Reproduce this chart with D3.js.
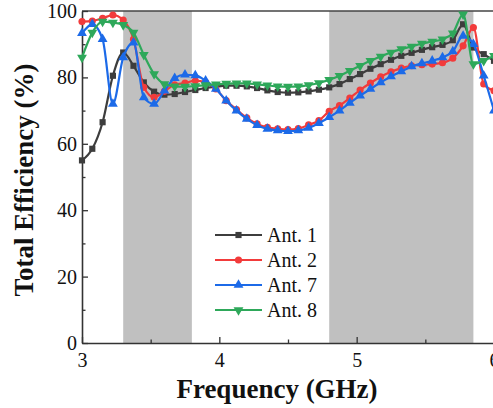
<!DOCTYPE html>
<html>
<head>
<meta charset="utf-8">
<script src="https://cdn.jsdelivr.net/npm/d3@7/dist/d3.min.js"></script>
<style>
  html, body { margin: 0; padding: 0; background: #fff; }
  svg { display: block; }
  text { font-family: "Liberation Serif", "Times New Roman", serif; fill: #111; }
</style>
</head>
<body>
<svg id="chart" width="493" height="408"></svg>
<script>
// Sweep frequencies (GHz)
const freq = [3.000, 3.075, 3.150, 3.225, 3.300, 3.375, 3.450, 3.525, 3.600, 3.675,
              3.750, 3.825, 3.900, 3.975, 4.050, 4.125, 4.200, 4.275, 4.350, 4.425,
              4.500, 4.575, 4.650, 4.725, 4.800, 4.875, 4.950, 5.025, 5.100, 5.175,
              5.250, 5.325, 5.400, 5.475, 5.550, 5.625, 5.700, 5.775, 5.850, 5.925, 6.000];

// Total efficiency (%) of each antenna
const ant1 = [55.0, 58.5, 66.5, 80.5, 87.5, 83.5, 78.5, 75.7, 74.8, 75.0,
              75.6, 76.2, 76.8, 77.2, 77.5, 77.5, 77.3, 76.8, 76.1, 75.6,
              75.4, 75.5, 75.8, 76.3, 77.0, 78.0, 79.5, 81.0, 82.6, 84.0,
              85.3, 86.5, 87.4, 88.3, 89.1, 89.8, 91.2, 96.0, 89.0, 87.0, 85.0];
const ant2 = [96.8, 97.0, 97.8, 98.8, 97.3, 91.5, 77.0, 74.0, 75.8, 77.8,
              78.3, 79.0, 78.5, 76.5, 73.0, 70.3, 67.8, 66.0, 65.0, 64.5,
              64.3, 64.6, 65.7, 67.0, 69.8, 71.5, 73.8, 76.2, 78.3, 80.2,
              81.7, 82.8, 83.5, 83.8, 84.0, 84.4, 85.8, 89.5, 95.0, 78.0, 76.0];
const ant7 = [93.3, 96.0, 91.5, 72.0, 86.0, 90.5, 74.0, 72.0, 76.0, 79.8,
              80.8, 80.6, 79.0, 76.5, 73.0, 70.0, 67.5, 65.6, 64.5, 64.0,
              63.8, 64.0, 64.8, 66.2, 68.0, 70.0, 72.3, 74.5, 76.5, 78.5,
              80.3, 81.8, 83.3, 84.2, 85.0, 86.0, 87.8, 92.5, 90.0, 80.5, 70.0];
const ant8 = [86.0, 93.5, 96.8, 96.5, 95.8, 93.5, 86.8, 81.0, 78.0, 77.3,
              77.2, 77.4, 77.7, 77.9, 78.1, 78.2, 78.2, 77.9, 77.6, 77.3,
              77.2, 77.3, 77.7, 78.3, 79.3, 80.5, 82.0, 83.5, 85.0, 86.3,
              87.5, 88.5, 89.3, 90.2, 90.8, 91.5, 93.3, 99.0, 84.0, 85.0, 86.5];

const seriesNames = ["Ant. 1", "Ant. 2", "Ant. 7", "Ant. 8"];
const seriesColors = ["#3d3d3d", "#f23b3b", "#1c6ae8", "#2ea85a"];
const seriesSymbols = [d3.symbolSquare, d3.symbolCircle, d3.symbolTriangle, d3.symbolTriangle];

// Shaded operating bands (GHz)
const bands = [[3.3, 3.8], [4.8, 5.85]];

const xTicks = [3, 4, 5, 6];
const xMinorTicks = [3.5, 4.5, 5.5];
const yTicks = [0, 20, 40, 60, 80, 100];
const yMinorTicks = [10, 30, 50, 70, 90];

const series = [ant1, ant2, ant7, ant8];

const svg = d3.select("#chart");
const x = d3.scaleLinear().domain([3, 6]).range([82, 494]);
const y = d3.scaleLinear().domain([0, 100]).range([343, 11]);

// shaded bands
svg.append("g").selectAll("rect").data(bands).join("rect")
  .attr("x", d => x(d[0]))
  .attr("y", y(100))
  .attr("width", d => x(d[1]) - x(d[0]))
  .attr("height", y(0) - y(100))
  .attr("fill", "#c0c0c0");

// frame top and right
svg.append("line").attr("x1", x(3)).attr("x2", x(6)).attr("y1", y(100)).attr("y2", y(100))
  .attr("stroke", "#444").attr("stroke-width", 1.3);
svg.append("line").attr("x1", x(6)).attr("x2", x(6)).attr("y1", y(100)).attr("y2", y(0))
  .attr("stroke", "#444").attr("stroke-width", 1.3);

// axes
const xAxis = svg.append("g").attr("transform", `translate(0,${y(0)})`)
  .call(d3.axisBottom(x).tickValues(xTicks).tickFormat(d3.format("d"))
        .tickSize(-6).tickSizeOuter(0).tickPadding(10));
svg.append("g").attr("transform", `translate(0,${y(0)})`)
  .call(d3.axisBottom(x).tickValues(xMinorTicks).tickFormat("")
        .tickSize(-3.5).tickSizeOuter(0))
  .select(".domain").remove();
const yAxis = svg.append("g").attr("transform", `translate(${x(3)},0)`)
  .call(d3.axisLeft(y).tickValues(yTicks).tickFormat(d3.format("d"))
        .tickSize(-6).tickSizeOuter(0).tickPadding(5));
svg.append("g").attr("transform", `translate(${x(3)},0)`)
  .call(d3.axisLeft(y).tickValues(yMinorTicks).tickFormat("")
        .tickSize(-3.5).tickSizeOuter(0))
  .select(".domain").remove();

svg.selectAll(".domain").attr("stroke", "#333").attr("stroke-width", 1.6);
svg.selectAll(".tick line").attr("stroke", "#333").attr("stroke-width", 1.3);
svg.selectAll(".tick text").attr("font-size", 20)
  .attr("font-family", "'Liberation Serif', 'Times New Roman', serif").attr("fill", "#111");

// axis titles
svg.append("text")
  .attr("x", 277).attr("y", 398)
  .attr("text-anchor", "middle")
  .attr("font-size", 27).attr("font-weight", "bold")
  .text("Frequency (GHz)");
svg.append("text")
  .attr("transform", "translate(33,180) rotate(-90)")
  .attr("text-anchor", "middle")
  .attr("font-size", 27).attr("font-weight", "bold")
  .text("Total Efficiency (%)");

// series lines and markers
const line = d3.line()
  .x((d, i) => x(freq[i]))
  .y(d => y(d))
  .curve(d3.curveMonotoneX);

function symbolPath(k, size) {
  return d3.symbol().type(seriesSymbols[k]).size(size)();
}

series.forEach((vals, k) => {
  const g = svg.append("g");
  g.append("path").datum(vals)
    .attr("d", line)
    .attr("fill", "none")
    .attr("stroke", seriesColors[k])
    .attr("stroke-width", 2.2);
  g.selectAll("path.m").data(vals).join("path")
    .attr("class", "m")
    .attr("d", symbolPath(k, k === 0 ? 38 : (k === 1 ? 40 : 42)))
    .attr("transform", (d, i) => `translate(${x(freq[i])},${y(d)})` + (k === 3 ? " rotate(180)" : ""))
    .attr("fill", seriesColors[k]);
});

// legend
const legend = svg.append("g");
const legendRows = [235, 260, 285, 310];
seriesNames.forEach((name, k) => {
  const row = legend.append("g").attr("transform", `translate(0,${legendRows[k]})`);
  row.append("line").attr("x1", 215).attr("x2", 262).attr("y1", 0).attr("y2", 0)
    .attr("stroke", seriesColors[k]).attr("stroke-width", 2.2);
  row.append("path").attr("d", symbolPath(k, k === 0 ? 38 : (k === 1 ? 40 : 42)))
    .attr("transform", "translate(238.5,0)" + (k === 3 ? " rotate(180)" : ""))
    .attr("fill", seriesColors[k]);
  row.append("text").attr("x", 267).attr("y", 0).attr("dy", "0.35em")
    .attr("font-size", 20).text(name);
});
</script>
</body>
</html>
